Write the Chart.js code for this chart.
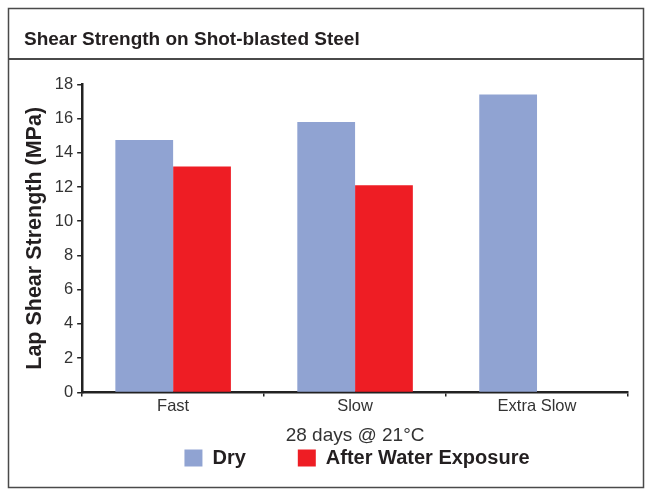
<!DOCTYPE html>
<html>
<head>
<meta charset="utf-8">
<script src="https://cdn.jsdelivr.net/npm/chart.js@4"></script>
<style>
html,body{margin:0;padding:0;background:#fff;}
#wrap{width:645px;height:490px;position:relative;}
</style>
</head>
<body>
<div id="wrap"><canvas id="c" width="645" height="490"></canvas></div>
<script>
const categories = ["Fast", "Slow", "Extra Slow"];
const dryValues = [14.75, 15.8, 17.4];
const waterValues = [13.2, 12.1, null];
const seriesNames = ["Dry", "After Water Exposure"];
const chartTitle = "Shear Strength on Shot-blasted Steel";
const yTitle = "Lap Shear Strength (MPa)";
const xTitle = "28 days @ 21°C";

const FONT = 'Liberation Sans, Arial, Helvetica, sans-serif';

const frame = {
  id: 'frame',
  beforeDraw(chart) {
    const ctx = chart.ctx;
    ctx.save();
    ctx.fillStyle = '#fff';
    ctx.fillRect(0, 0, chart.width, chart.height);
    ctx.strokeStyle = '#4a4a4a';
    ctx.lineWidth = 1.5;
    ctx.strokeRect(8.5, 8.5, 635, 479);
    ctx.lineWidth = 2;
    ctx.beginPath();
    ctx.moveTo(8, 59);
    ctx.lineTo(644, 59);
    ctx.stroke();
    ctx.restore();
  },
  afterLayout(chart) {
    // pull the legend row up closer to the axis title (keep its bottom so nothing is clipped)
    const L = chart.legend;
    if (L) { L.top -= 51; L.left += 34; L.right += 34; }
    const T = chart.titleBlock;
    if (T) { T.left += 6; T.right += 6; }
  }
};

new Chart(document.getElementById('c'), {
  type: 'bar',
  data: {
    labels: categories,
    datasets: [
      { label: seriesNames[0], data: dryValues, backgroundColor: '#90A3D2' },
      { label: seriesNames[1], data: waterValues, backgroundColor: '#EE1D24' }
    ]
  },
  options: {
    responsive: false,
    animation: false,
    devicePixelRatio: 1,
    layout: { padding: { left: 18, right: 17, top: 0, bottom: 13 } },
    datasets: { bar: { categoryPercentage: 0.635, barPercentage: 1 } },
    plugins: {
      title: {
        display: true, text: chartTitle, align: 'start', color: '#231f20',
        font: { family: FONT, size: 19, weight: 'bold' },
        padding: { top: 28, bottom: 33.5 }
      },
      legend: {
        position: 'bottom',
        maxHeight: 30,
        labels: {
          boxWidth: 18, boxHeight: 17, padding: 52, color: '#231f20',
          font: { family: FONT, size: 20, weight: 'bold' }
        }
      },
      tooltip: { enabled: false }
    },
    scales: {
      x: {
        grid: { display: true, offset: true, drawOnChartArea: false, drawTicks: true, tickLength: 4, color: '#222', lineWidth: 1.5 },
        border: { display: true, color: '#222', width: 2.5 },
        ticks: { color: '#333', font: { family: FONT, size: 16.5 }, padding: 0 },
        title: { display: true, text: xTitle, color: '#333', font: { family: FONT, size: 19 }, padding: { top: 8, bottom: 0 } }
      },
      y: {
        min: 0, max: 18,
        ticks: { stepSize: 2, color: '#333', font: { family: FONT, size: 16.5 }, padding: 4 },
        grid: { display: true, drawOnChartArea: false, drawTicks: true, tickLength: 5, color: '#222', lineWidth: 1.5 },
        border: { display: true, color: '#222', width: 2.5 },
        title: { display: true, text: yTitle, color: '#231f20', font: { family: FONT, size: 21.5, weight: 'bold' }, padding: { top: 4, bottom: 3 } }
      }
    }
  },
  plugins: [frame]
});
</script>
</body>
</html>
